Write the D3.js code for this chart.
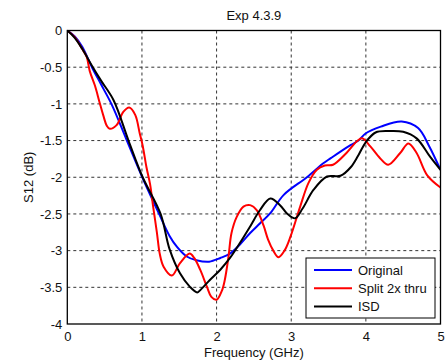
<!DOCTYPE html>
<html>
<head>
<meta charset="utf-8">
<script src="https://cdn.jsdelivr.net/npm/d3@7"></script>
<style>
  html, body { margin: 0; padding: 0; background: #fff; }
  svg { display: block; }
  text { font-family: "Liberation Sans", Arial, sans-serif; font-size: 13px; fill: #111; }
</style>
</head>
<body>
<svg id="chart" width="448" height="361"></svg>
<script>
// S12 insertion loss vs frequency, three de-embedding approaches
const xTicks = [0, 1, 2, 3, 4, 5];
const yTicks = [0, -0.5, -1, -1.5, -2, -2.5, -3, -3.5, -4];
const yTickLabels = ["0", "-0.5", "-1", "-1.5", "-2", "-2.5", "-3", "-3.5", "-4"];

const seriesNames = ["Original", "Split 2x thru", "ISD"];
const seriesColors = ["#0000ff", "#ff0000", "#000000"];

const originalFreq = [0, 0.1, 0.2, 0.33, 0.45, 0.6, 0.79, 1.0, 1.23, 1.37, 1.47, 1.6, 1.73, 1.9, 2.05, 2.18, 2.31, 2.45, 2.58, 2.72, 2.9, 3.21, 3.43, 3.53, 3.66, 3.8, 3.9, 4.0, 4.2, 4.48, 4.7, 4.85, 5.0];
const originalDb   = [0, -0.08, -0.22, -0.5, -0.73, -1.02, -1.48, -1.99, -2.5, -2.8, -2.95, -3.08, -3.13, -3.15, -3.10, -3.04, -2.92, -2.76, -2.63, -2.49, -2.24, -2.0, -1.81, -1.74, -1.65, -1.56, -1.5, -1.40, -1.31, -1.24, -1.33, -1.58, -1.9];

const splitFreq = [0, 0.1, 0.21, 0.26, 0.3, 0.37, 0.43, 0.48, 0.53, 0.57, 0.66, 0.75, 0.83, 0.91, 0.97, 1.01, 1.06, 1.11, 1.15, 1.2, 1.24, 1.29, 1.4, 1.51, 1.64, 1.7, 1.78, 1.87, 1.93, 2.0, 2.07, 2.11, 2.16, 2.2, 2.27, 2.36, 2.45, 2.54, 2.63, 2.69, 2.76, 2.83, 2.91, 2.99, 3.12, 3.23, 3.34, 3.45, 3.56, 3.74, 3.88, 3.95, 4.06, 4.19, 4.3, 4.46, 4.57, 4.68, 4.82, 5.0];
const splitDb   = [0, -0.09, -0.27, -0.36, -0.55, -0.75, -0.97, -1.15, -1.3, -1.34, -1.29, -1.11, -1.05, -1.15, -1.4, -1.57, -1.86, -2.1, -2.4, -2.75, -3.05, -3.22, -3.34, -3.17, -3.04, -3.1, -3.26, -3.49, -3.63, -3.67, -3.55, -3.40, -3.08, -2.76, -2.54, -2.40, -2.38, -2.45, -2.66, -2.85, -3.0, -3.09, -3.0, -2.81, -2.40, -2.08, -1.9, -1.84, -1.83, -1.67, -1.51, -1.47, -1.58, -1.74, -1.83, -1.67, -1.54, -1.67, -1.97, -2.14];

const isdFreq = [0, 0.1, 0.2, 0.33, 0.45, 0.62, 0.82, 1.01, 1.25, 1.37, 1.51, 1.64, 1.74, 1.78, 1.91, 2.05, 2.18, 2.31, 2.45, 2.58, 2.72, 2.85, 2.95, 3.05, 3.15, 3.3, 3.48, 3.66, 3.8, 3.9, 4.0, 4.13, 4.3, 4.5, 4.68, 4.86, 5.0];
const isdDb   = [0, -0.1, -0.25, -0.48, -0.68, -0.95, -1.5, -2.0, -2.5, -2.98, -3.31, -3.49, -3.57, -3.54, -3.40, -3.26, -3.10, -2.90, -2.67, -2.45, -2.29, -2.38, -2.5, -2.56, -2.43, -2.17, -1.99, -1.98, -1.86, -1.70, -1.52, -1.39, -1.37, -1.38, -1.47, -1.72, -1.9];

const series = [
  { name: seriesNames[0], color: seriesColors[0], freq: originalFreq, db: originalDb },
  { name: seriesNames[1], color: seriesColors[1], freq: splitFreq, db: splitDb },
  { name: seriesNames[2], color: seriesColors[2], freq: isdFreq, db: isdDb }
];

const svg = d3.select("#chart");
const plotL = 67.3, plotR = 440.5, plotT = 30.5, plotB = 324;

const x = d3.scaleLinear().domain([0, 5]).range([plotL, plotR]);
const y = d3.scaleLinear().domain([-4, 0]).range([plotB, plotT]);

// dotted grid
const grid = svg.append("g").attr("stroke", "#333").attr("stroke-width", 1).attr("stroke-dasharray", "3,3");
xTicks.slice(1, -1).forEach(t => {
  grid.append("line").attr("x1", x(t)).attr("x2", x(t)).attr("y1", plotT).attr("y2", plotB);
});
yTicks.slice(1, -1).forEach(t => {
  grid.append("line").attr("x1", plotL).attr("x2", plotR).attr("y1", y(t)).attr("y2", y(t));
});

// tick labels via d3 axes (tick lines hidden; the box is drawn separately)
const xAxis = svg.append("g").attr("transform", `translate(0,${plotB})`)
  .call(d3.axisBottom(x).tickValues(xTicks).tickSize(0).tickPadding(8).tickFormat(d3.format("d")));
const yAxis = svg.append("g").attr("transform", `translate(${plotL},0)`)
  .call(d3.axisLeft(y).tickValues(yTicks).tickSize(0).tickPadding(5).tickFormat((d, i) => yTickLabels[i]));
[xAxis, yAxis].forEach(a => {
  a.select(".domain").remove();
  a.selectAll("text").attr("font-family", "Liberation Sans, Arial, sans-serif").attr("font-size", 13).attr("fill", "#111");
});

// curves, clipped to the axes box
svg.append("clipPath").attr("id", "plotClip").append("rect")
  .attr("x", plotL).attr("y", plotT - 1).attr("width", plotR - plotL).attr("height", plotB - plotT + 2);

const line = d3.line()
  .x(d => x(d[0]))
  .y(d => y(d[1]))
  .curve(d3.curveCatmullRom.alpha(0.5));

const curves = svg.append("g").attr("clip-path", "url(#plotClip)");
series.forEach(s => {
  curves.append("path")
    .datum(s.freq.map((f, i) => [f, s.db[i]]))
    .attr("fill", "none")
    .attr("stroke", s.color)
    .attr("stroke-width", 2)
    .attr("stroke-linejoin", "round")
    .attr("d", line);
});

// axes box
svg.append("rect")
  .attr("x", plotL).attr("y", plotT).attr("width", plotR - plotL).attr("height", plotB - plotT)
  .attr("fill", "none").attr("stroke", "#000").attr("stroke-width", 1.3);

// title and axis titles
svg.append("text").attr("x", (plotL + plotR) / 2).attr("y", 20).attr("text-anchor", "middle").text("Exp 4.3.9");
svg.append("text").attr("x", (plotL + plotR) / 2).attr("y", 357).attr("text-anchor", "middle").text("Frequency (GHz)");
svg.append("text").attr("transform", `translate(33,${(plotT + plotB) / 2}) rotate(-90)`)
  .attr("text-anchor", "middle").text("S12 (dB)");

// legend
const lg = svg.append("g").attr("transform", "translate(306,258)");
lg.append("rect").attr("width", 129).attr("height", 60).attr("fill", "#fff").attr("stroke", "#000").attr("stroke-width", 1);
series.forEach((s, i) => {
  const cy = 12 + i * 18.3;
  lg.append("line").attr("x1", 8).attr("x2", 46).attr("y1", cy).attr("y2", cy)
    .attr("stroke", s.color).attr("stroke-width", 2);
  lg.append("text").attr("x", 52).attr("y", cy).attr("dy", "0.36em").text(s.name);
});
</script>
</body>
</html>
